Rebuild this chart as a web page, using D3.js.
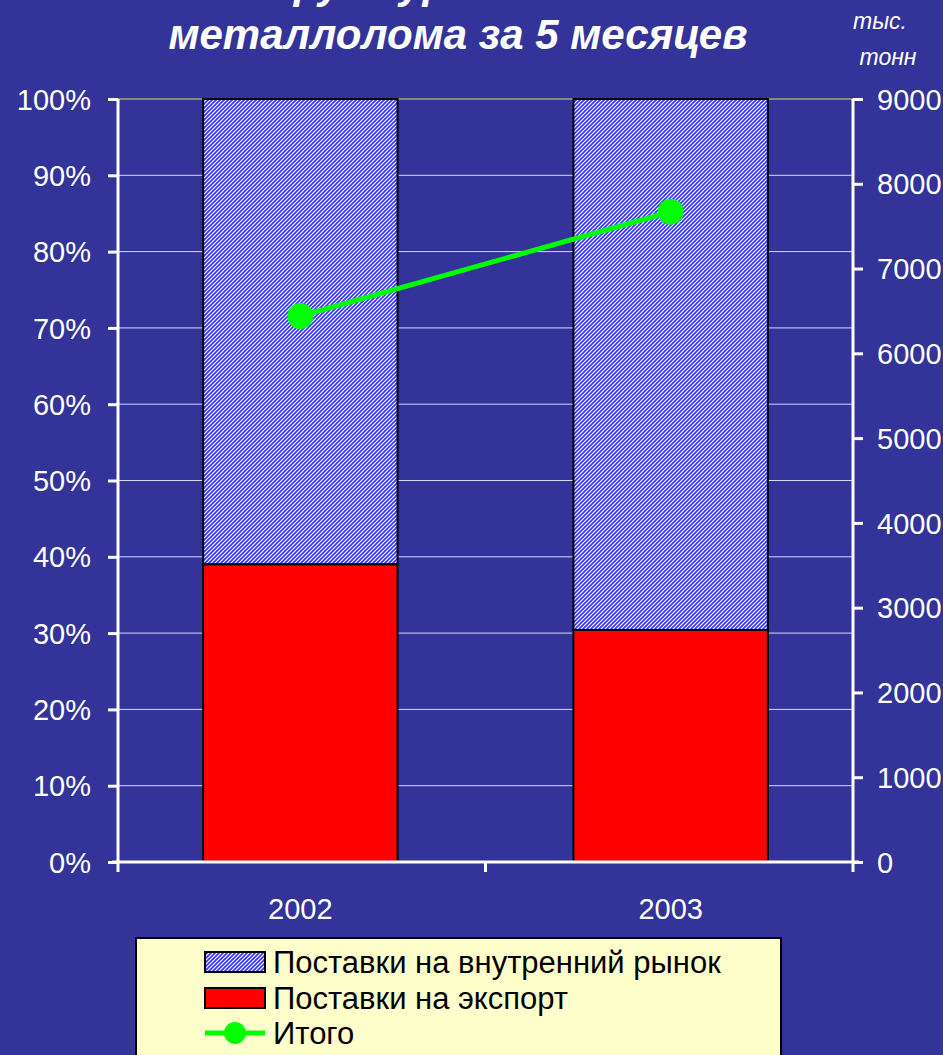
<!DOCTYPE html>
<html lang="ru">
<head>
<meta charset="utf-8">
<title>Структура поставок металлолома</title>
<script src="https://d3js.org/d3.v7.min.js"></script>
<style>
  html, body { margin: 0; padding: 0; background: #333399; }
  svg { display: block; font-family: "Liberation Sans", Arial, sans-serif; }
  .tick text { fill: #fff; font-size: 29px; }
  .tick line, .domain { stroke: #fff; }
</style>
</head>
<body>
<svg id="chart" width="943" height="1055"></svg>
<script>
// data
var years = ["2002", "2003"];
var exportShare = [0.39, 0.304];      // Поставки на экспорт
var domesticShare = [0.61, 0.696];    // Поставки на внутренний рынок
var totals = [6440, 7670];            // Итого, тыс. тонн
var leftTicks = [0, 0.1, 0.2, 0.3, 0.4, 0.5, 0.6, 0.7, 0.8, 0.9, 1];
var rightTicks = [0, 1000, 2000, 3000, 4000, 5000, 6000, 7000, 8000, 9000];
var legendLabels = ["Поставки на внутренний рынок", "Поставки на экспорт", "Итого"];

var svg = d3.select("#chart");
var L = 118, R = 853, T = 99, B = 862;

var defs = svg.append("defs");
var pat = defs.append("pattern")
    .attr("id", "hatch").attr("patternUnits", "userSpaceOnUse")
    .attr("width", 4).attr("height", 4);
pat.append("rect").attr("width", 4).attr("height", 4).attr("fill", "#ffffff");
pat.append("path").attr("d", "M-1,1 l2,-2 M0,4 l4,-4 M3,5 l2,-2")
    .attr("stroke", "#3333ff").attr("stroke-width", 1.6);

var x = d3.scaleBand().domain(years).range([L, R]).paddingInner(0.475).paddingOuter(0.23);
var y = d3.scaleLinear().domain([0, 1]).range([B, T]);
var y2 = d3.scaleLinear().domain([0, 9000]).range([B, T]);

// title (first line is cut by the top edge, as in the original)
svg.append("text").attr("x", 458).attr("y", -2).attr("text-anchor", "middle")
    .attr("fill", "#fff").attr("font-size", 42).attr("font-weight", "bold").attr("font-style", "italic")
    .text("Структура поставок");
svg.append("text").attr("x", 458).attr("y", 49).attr("text-anchor", "middle")
    .attr("fill", "#fff").attr("font-size", 42).attr("font-weight", "bold").attr("font-style", "italic")
    .text("металлолома за 5 месяцев");
svg.append("text").attr("x", 880).attr("y", 29).attr("text-anchor", "middle")
    .attr("fill", "#fff").attr("font-size", 23).attr("font-style", "italic").text("тыс.");
svg.append("text").attr("x", 888).attr("y", 65).attr("text-anchor", "middle")
    .attr("fill", "#fff").attr("font-size", 23).attr("font-style", "italic").text("тонн");

// gridlines
svg.append("g").selectAll("line").data(leftTicks.slice(1, -1)).enter().append("line")
    .attr("x1", L).attr("x2", R)
    .attr("y1", function(d) { return y(d); }).attr("y2", function(d) { return y(d); })
    .attr("stroke", "#d8d8ff").attr("stroke-width", 1);
svg.append("line").attr("x1", L).attr("x2", R).attr("y1", T).attr("y2", T)
    .attr("stroke", "#888888").attr("stroke-width", 2);

// bars
var bars = svg.append("g");
years.forEach(function(yr, i) {
  bars.append("rect")
      .attr("x", x(yr)).attr("width", x.bandwidth())
      .attr("y", y(exportShare[i] + domesticShare[i])).attr("height", y(exportShare[i]) - y(exportShare[i] + domesticShare[i]))
      .attr("fill", "url(#hatch)").attr("stroke", "#000").attr("stroke-width", 2);
  bars.append("rect")
      .attr("x", x(yr)).attr("width", x.bandwidth())
      .attr("y", y(exportShare[i])).attr("height", y(0) - y(exportShare[i]))
      .attr("fill", "#ff0000").attr("stroke", "#000").attr("stroke-width", 2);
});

// axes
var gl = svg.append("g").attr("transform", "translate(" + L + ",0)")
    .call(d3.axisLeft(y).tickValues(leftTicks).tickFormat(d3.format(".0%")).tickSize(10).tickPadding(17));
var gr = svg.append("g").attr("transform", "translate(" + R + ",0)")
    .call(d3.axisRight(y2).tickValues(rightTicks).tickFormat(d3.format("d")).tickSize(10).tickPadding(14));
var gb = svg.append("g").attr("transform", "translate(0," + B + ")")
    .call(d3.axisBottom(x).tickSize(0).tickPadding(36));
[gl, gr, gb].forEach(function(g) {
  g.selectAll(".domain").attr("stroke-width", 3);
  g.selectAll(".tick line").attr("stroke-width", 3);
  g.selectAll(".tick text").attr("dy", "0.35em");
});
gl.select(".domain").attr("d", "M0," + T + "V" + B);
gr.select(".domain").attr("d", "M0," + T + "V" + B);
gb.select(".domain").attr("d", "M" + (L - 6) + ",0H" + (R + 6));
gb.selectAll(".tick text").attr("dy", "0.71em");
// category separator ticks
svg.append("g").selectAll("line").data([L, (L + R) / 2, R]).enter().append("line")
    .attr("x1", function(d) { return d; }).attr("x2", function(d) { return d; })
    .attr("y1", B).attr("y2", B + 10).attr("stroke", "#fff").attr("stroke-width", 3);

// total line
var line = d3.line()
    .x(function(d, i) { return x(years[i]) + x.bandwidth() / 2; })
    .y(function(d) { return y2(d); });
svg.append("path").datum(totals).attr("d", line)
    .attr("fill", "none").attr("stroke", "#00ff00").attr("stroke-width", 5);
svg.append("g").selectAll("circle").data(totals).enter().append("circle")
    .attr("cx", function(d, i) { return x(years[i]) + x.bandwidth() / 2; })
    .attr("cy", function(d) { return y2(d); })
    .attr("r", 13).attr("fill", "#00ff00");

// legend
var lg = svg.append("g");
lg.append("rect").attr("x", 136).attr("y", 938).attr("width", 645).attr("height", 130)
    .attr("fill", "#ffffcc").attr("stroke", "#000").attr("stroke-width", 2);
var rowY = [962, 998, 1033];
lg.append("rect").attr("x", 205).attr("y", rowY[0] - 10).attr("width", 60).attr("height", 20)
    .attr("fill", "url(#hatch)").attr("stroke", "#000").attr("stroke-width", 2);
lg.append("rect").attr("x", 205).attr("y", rowY[1] - 10).attr("width", 60).attr("height", 20)
    .attr("fill", "#ff0000").attr("stroke", "#000").attr("stroke-width", 2);
lg.append("line").attr("x1", 205).attr("x2", 265).attr("y1", rowY[2]).attr("y2", rowY[2])
    .attr("stroke", "#00ff00").attr("stroke-width", 5);
lg.append("circle").attr("cx", 235).attr("cy", rowY[2]).attr("r", 11).attr("fill", "#00ff00");
lg.selectAll("text.lab").data(legendLabels).enter().append("text")
    .attr("class", "lab")
    .attr("x", 273).attr("y", function(d, i) { return rowY[i]; }).attr("dy", "0.36em")
    .attr("font-size", 31).attr("fill", "#000").text(function(d) { return d; });
</script>
</body>
</html>
